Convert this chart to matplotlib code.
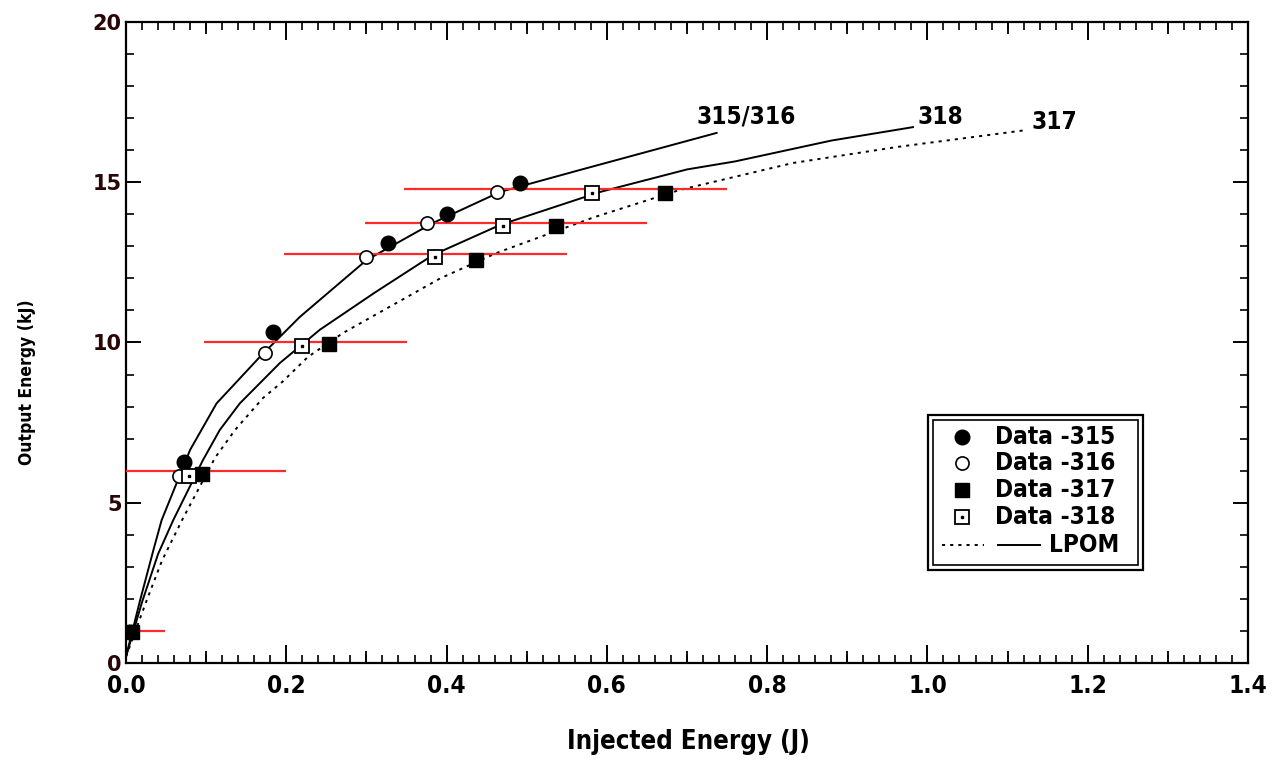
import numpy as np
import matplotlib
matplotlib.use("Agg")
import matplotlib.pyplot as plt
from matplotlib import font_manager
from matplotlib.ticker import MultipleLocator, FixedLocator
from matplotlib.patches import Rectangle
from matplotlib.lines import Line2D

# ---------------- data ----------------
d315_x = [0.005, 0.072, 0.183, 0.327, 0.400, 0.491]
d315_y = [0.97, 6.27, 10.33, 13.10, 14.00, 14.98]

d316_x = [0.066, 0.173, 0.300, 0.376, 0.463]
d316_y = [5.85, 9.67, 12.67, 13.72, 14.70]

d317_x = [0.007, 0.095, 0.253, 0.437, 0.537, 0.672]
d317_y = [0.97, 5.90, 9.95, 12.58, 13.62, 14.66]

d318_x = [0.078, 0.220, 0.385, 0.471, 0.581]
d318_y = [5.85, 9.88, 12.67, 13.63, 14.68]

c315_316_x = [0.0, 0.017, 0.035, 0.0445, 0.080, 0.113, 0.167, 0.217, 0.300, 0.383, 0.467, 0.566, 0.737]
c315_316_y = [0.2, 1.9, 3.6, 4.46, 6.65, 8.10, 9.55, 10.80, 12.57, 13.73, 14.70, 15.38, 16.54]

c318_x = [0.0, 0.020, 0.040, 0.059, 0.096, 0.117, 0.142, 0.192, 0.242, 0.310, 0.383, 0.467, 0.592, 0.700, 0.760, 0.880, 0.982]
c318_y = [0.2, 1.9, 3.4, 4.46, 6.33, 7.27, 8.10, 9.36, 10.40, 11.55, 12.73, 13.67, 14.70, 15.40, 15.65, 16.30, 16.72]

c317_x = [0.0, 0.025, 0.045, 0.070, 0.111, 0.136, 0.171, 0.195, 0.227, 0.271, 0.392, 0.463, 0.583, 0.691, 0.832, 0.962, 1.124]
c317_y = [0.2, 1.9, 3.2, 4.46, 6.40, 7.27, 8.27, 8.77, 9.55, 10.30, 12.00, 12.80, 13.90, 14.76, 15.60, 16.10, 16.63]

# horizontal (injected energy) uncertainty bars
bar_y = [1.0, 6.0, 10.0, 12.77, 13.74, 14.79]
bar_xmin = [0.0, 0.0, 0.097, 0.197, 0.298, 0.347]
bar_xmax = [0.049, 0.200, 0.350, 0.550, 0.650, 0.750]

curve_labels = ["315/316", "318", "317"]
curve_label_x = [0.712, 0.987, 1.130]
curve_label_y = [17.04, 17.04, 16.88]

legend_labels = ["Data -315", "Data -316", "Data -317", "Data -318", "LPOM"]

x_ticks = [0.0, 0.2, 0.4, 0.6, 0.8, 1.0, 1.2, 1.4]
x_ticklabels = ["0.0", "0.2", "0.4", "0.6", "0.8", "1.0", "1.2", "1.4"]
x_mid_ticks = [0.1, 0.3, 0.5, 0.7, 0.9, 1.1, 1.3]
y_ticks = [0, 5, 10, 15, 20]
y_ticklabels = ["0", "5", "10", "15", "20"]

# ---------------- fonts ----------------
ttf = font_manager.fontManager.ttflist
names = {f.name for f in ttf}
COND = dict(family="Liberation Sans")
COND_SCALE = 0.85
if "Liberation Sans Narrow" in names:
    COND = dict(family="Liberation Sans Narrow")
    COND_SCALE = 1.05
else:
    dv = [f for f in ttf if f.name == "DejaVu Sans" and str(f.stretch) in ("condensed", "semi-condensed")]
    if dv:
        COND = dict(family="DejaVu Sans", stretch="condensed")
        COND_SCALE = 1.0

def cf(size):
    return dict(fontsize=size * COND_SCALE, fontweight="bold", **COND)

# ---------------- figure ----------------
W, H = 1278, 765
fig = plt.figure(figsize=(W / 100, H / 100), dpi=100)
L, R, T, B = 126, 1248, 22, 663
ax = fig.add_axes([L / W, 1 - B / H, (R - L) / W, (B - T) / H])
ax.set_xlim(0, 1.4)
ax.set_ylim(0, 20)

def px(xp, yp):
    return ((xp - L) / (R - L), (B - yp) / (B - T))

lw_curve = 1.4
ax.plot(c315_316_x, c315_316_y, color="black", lw=lw_curve, zorder=3)
ax.plot(c318_x, c318_y, color="black", lw=lw_curve, zorder=3)
ax.plot(c317_x, c317_y, color="black", lw=lw_curve, ls=(0, (1.6, 2.6)), zorder=3)

ax.hlines(bar_y, bar_xmin, bar_xmax, color="#ff2a2a", lw=1.6, zorder=4)

ms = 10.5
ax.plot(d315_x, d315_y, ls="none", marker="o", ms=ms, mfc="black", mec="black", zorder=5)
ax.plot(d316_x, d316_y, ls="none", marker="o", ms=ms - 1, mfc="white", mec="black", mew=1.2, zorder=5)
ax.plot(d317_x, d317_y, ls="none", marker="s", ms=ms - 0.5, mfc="black", mec="black", zorder=5)
ax.plot(d318_x, d318_y, ls="none", marker="s", ms=ms - 1, mfc="white", mec="black", mew=1.3, zorder=5)
ax.plot(d318_x, d318_y, ls="none", marker="s", ms=1.6, mfc="black", mec="black", zorder=6)

for lab, lx, ly in zip(curve_labels, curve_label_x, curve_label_y):
    ax.text(lx, ly, lab, ha="left", va="center", color="black", zorder=6, **cf(17.5))

# ---------------- axes styling ----------------
for s in ax.spines.values():
    s.set_linewidth(1.6)
ax.set_xticks(x_ticks)
ax.set_xticklabels(x_ticklabels)
ax.xaxis.set_minor_locator(MultipleLocator(0.02))
ax.set_yticks(y_ticks)
ax.set_yticklabels(y_ticklabels)
ax.yaxis.set_minor_locator(MultipleLocator(1))
ax.tick_params(axis="x", which="major", direction="in", length=13, width=1.4, top=True, pad=8)
ax.tick_params(axis="x", which="minor", direction="in", length=5.5, width=1.2, top=True)
ax.tick_params(axis="y", which="major", direction="in", length=11, width=1.4, right=True, pad=3)
ax.tick_params(axis="y", which="minor", direction="in", length=5.5, width=1.2, right=True)
xf = cf(17.5)
for t in ax.get_xticklabels():
    t.set_fontfamily(xf["family"]); t.set_fontweight("bold"); t.set_fontsize(xf["fontsize"])
    if "stretch" in xf:
        t.set_fontstretch(xf["stretch"])
for t in ax.get_yticklabels():
    t.set_fontfamily("DejaVu Sans"); t.set_fontweight("bold"); t.set_fontsize(15); t.set_color("#2a0505")

for loc in ("top", "bottom"):
    sec = ax.secondary_xaxis(loc)
    sec.xaxis.set_major_locator(FixedLocator(x_mid_ticks))
    sec.tick_params(direction="in", length=8.5, width=1.3,
                    labelbottom=False, labeltop=False)
    sec.xaxis.set_minor_locator(FixedLocator([]))
    for s in sec.spines.values():
        s.set_visible(False)

ax.text(*px(688, 742), "Injected Energy (J)", transform=ax.transAxes, ha="center", va="center", **cf(18.5))
ax.text(*px(27, 382), "Output Energy (kJ)", transform=ax.transAxes, ha="center", va="center",
        rotation=90, **cf(12.5))

# ---------------- legend (drawn manually) ----------------
def rect(x0, y0, x1, y1, lw):
    a0 = px(x0, y1)
    a1 = px(x1, y0)
    ax.add_patch(Rectangle(a0, a1[0] - a0[0], a1[1] - a0[1], transform=ax.transAxes,
                           fill=False, ec="black", lw=lw, zorder=7, clip_on=False))

ax.add_patch(Rectangle(px(928, 570), px(1143, 415)[0] - px(928, 570)[0],
                       px(1143, 415)[1] - px(928, 570)[1], transform=ax.transAxes,
                       fc="white", ec="none", zorder=6.5))
rect(928, 415, 1143, 570, 1.6)
rect(933, 420, 1138, 565, 1.2)

rows_y = [437, 463, 490, 517, 545]
mk_x = 962
txt_x = 995
styles = [dict(marker="o", ms=ms, mfc="black", mec="black"),
          dict(marker="o", ms=ms - 1, mfc="white", mec="black", mew=1.2),
          dict(marker="s", ms=ms - 0.5, mfc="black", mec="black"),
          dict(marker="s", ms=ms - 1, mfc="white", mec="black", mew=1.3)]
lf = cf(17.5)
for i in range(4):
    xa, ya = px(mk_x, rows_y[i])
    ax.add_line(Line2D([xa], [ya], transform=ax.transAxes, ls="none", zorder=8, clip_on=False, **styles[i]))
    ax.text(*px(txt_x, rows_y[i]), legend_labels[i], transform=ax.transAxes, ha="left", va="center",
            zorder=8, **lf)
xa, ya = px(mk_x, rows_y[3])
ax.add_line(Line2D([xa], [ya], transform=ax.transAxes, ls="none", marker="s", ms=1.6,
                   mfc="black", mec="black", zorder=9, clip_on=False))
y5 = rows_y[4]
a, b = px(942, y5), px(984, y5)
ax.add_line(Line2D([a[0], b[0]], [a[1], b[1]], transform=ax.transAxes, color="black",
                   lw=lw_curve, ls=(0, (1.6, 2.6)), zorder=8, clip_on=False))
a, b = px(998, y5), px(1040, y5)
ax.add_line(Line2D([a[0], b[0]], [a[1], b[1]], transform=ax.transAxes, color="black",
                   lw=lw_curve, zorder=8, clip_on=False))
ax.text(*px(1049, y5), legend_labels[4], transform=ax.transAxes, ha="left", va="center",
        zorder=8, **lf)

fig.savefig("out.png", dpi=100)
